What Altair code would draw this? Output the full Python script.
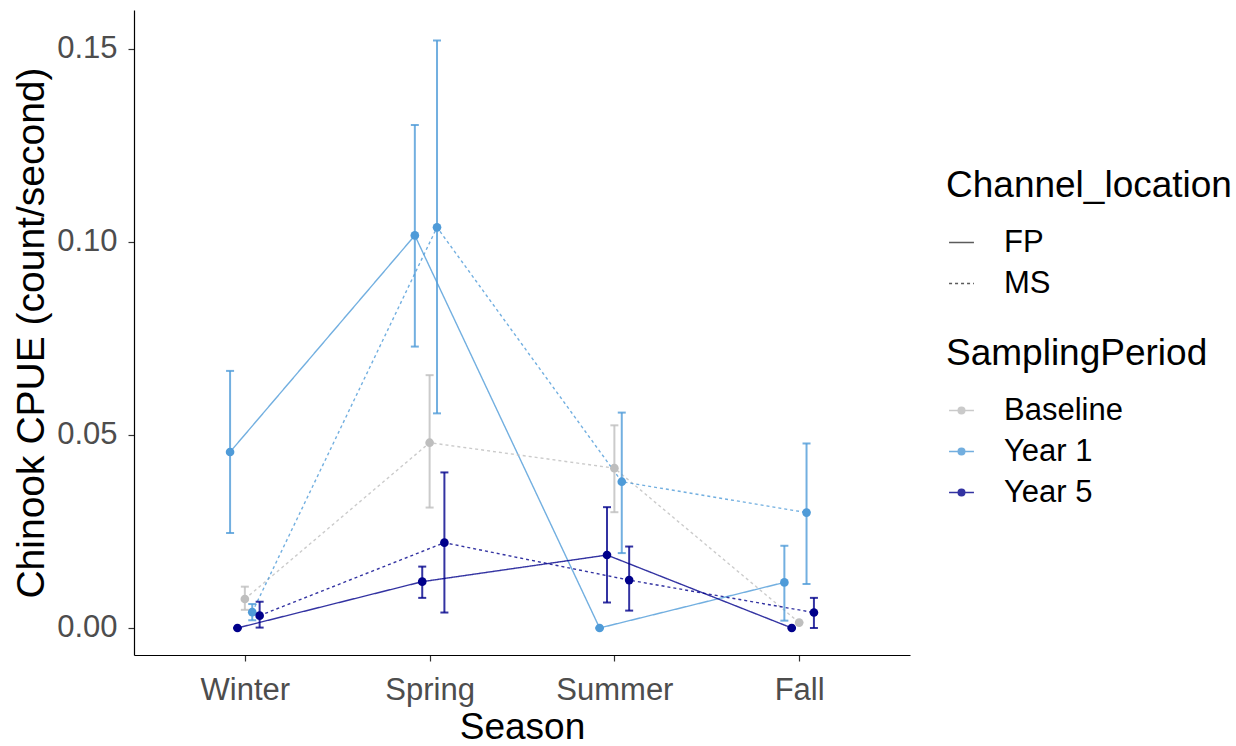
import altair as alt
import pandas as pd

# Seasons on the x axis, in plotting order
seasons = ["Winter", "Spring", "Summer", "Fall"]

# Mean CPUE and error-bar limits for each Channel_location / SamplingPeriod group
fp_y1_mean = [0.0456, 0.1017, 0.0000, 0.0118]
fp_y1_lo = [0.0246, 0.0729, 0.0000, 0.0019]
fp_y1_hi = [0.0666, 0.1303, 0.0000, 0.0213]

fp_y5_mean = [0.0000, 0.0120, 0.0189, 0.0000]
fp_y5_lo = [0.0000, 0.0078, 0.0066, 0.0000]
fp_y5_hi = [0.0000, 0.0159, 0.0313, 0.0000]

ms_base_mean = [0.0075, 0.0480, 0.0414, 0.0014]
ms_base_lo = [0.0047, 0.0312, 0.0300, 0.0014]
ms_base_hi = [0.0107, 0.0655, 0.0525, 0.0014]

ms_y1_mean = [0.0041, 0.1038, 0.0379, 0.0299]
ms_y1_lo = [0.0020, 0.0556, 0.0194, 0.0114]
ms_y1_hi = [0.0062, 0.1522, 0.0558, 0.0478]

ms_y5_mean = [0.0032, 0.0221, 0.0124, 0.0040]
ms_y5_lo = [0.0001, 0.0040, 0.0045, 0.0000]
ms_y5_hi = [0.0068, 0.0403, 0.0211, 0.0078]

periods = ["Baseline", "Year 1", "Year 5"]
period_colors = ["#BEBEBE", "#4F9BD8", "#00008B"]

groups = [
    ("FP", "Year 1", fp_y1_mean, fp_y1_lo, fp_y1_hi),
    ("FP", "Year 5", fp_y5_mean, fp_y5_lo, fp_y5_hi),
    ("MS", "Baseline", ms_base_mean, ms_base_lo, ms_base_hi),
    ("MS", "Year 1", ms_y1_mean, ms_y1_lo, ms_y1_hi),
    ("MS", "Year 5", ms_y5_mean, ms_y5_lo, ms_y5_hi),
]

rows = []
for loc, period, mean, lo, hi in groups:
    for s, m, l, h in zip(seasons, mean, lo, hi):
        rows.append({"Season": s, "Channel_location": loc, "SamplingPeriod": period,
                     "cpue": m, "lo": l, "hi": h})
df = pd.DataFrame(rows)

group_keys = [f"{g[0]}|{g[1]}" for g in groups]
season_list = "[" + ",".join(f"'{s}'" for s in seasons) + "]"
key_list = "[" + ",".join(f"'{k}'" for k in group_keys) + "]"

font = "Liberation Sans"

base = alt.Chart(df).transform_calculate(
    # dodge the five groups around each season
    xpos=f"indexof({season_list}, datum.Season) + 1 + "
         f"(indexof({key_list}, datum.Channel_location + '|' + datum.SamplingPeriod) - 2) * 0.04"
)

x_enc = alt.X(
    "xpos:Q",
    scale=alt.Scale(domain=[0.4, 4.6], nice=False, zero=False),
    axis=alt.Axis(
        values=[1, 2, 3, 4],
        labelExpr=f"{season_list}[datum.value - 1]",
        title="Season",
    ),
)
y_scale = alt.Scale(domain=[-0.007, 0.1601], nice=False, zero=False)
y_enc = alt.Y(
    "cpue:Q",
    scale=y_scale,
    axis=alt.Axis(values=[0, 0.05, 0.10, 0.15], format=".2f",
                  title="Chinook CPUE (count/second)"),
)

color_scale = alt.Scale(domain=periods, range=period_colors)

# legend glyph: short line with a dot in the middle
line_dot = ("M-1,0L1,0"
            "M-0.26,0A0.26,0.26 0 1,0 0.26,0A0.26,0.26 0 1,0 -0.26,0"
            "M-0.12,0A0.12,0.12 0 1,0 0.12,0A0.12,0.12 0 1,0 -0.12,0")

legend_common = dict(
    orient="none", legendX=812, symbolSize=620, rowPadding=9, labelOffset=27,
    titleLimit=400, labelLimit=300,
)

lines = base.mark_line(strokeWidth=1.4, opacity=0.8).encode(
    x=x_enc,
    y=y_enc,
    color=alt.Color(
        "SamplingPeriod:N",
        scale=color_scale,
        legend=alt.Legend(
            title="SamplingPeriod", legendY=326,
            symbolType=line_dot, symbolStrokeWidth=1.6, **legend_common,
        ),
    ),
    strokeDash=alt.StrokeDash(
        "Channel_location:N",
        scale=alt.Scale(domain=["FP", "MS"], range=[[1, 0], [3, 3]]),
        legend=alt.Legend(
            title="Channel_location", legendY=158,
            symbolType="stroke", symbolStrokeColor="#333333",
            symbolStrokeWidth=1.4, **legend_common,
        ),
    ),
)

bars = base.mark_rule(strokeWidth=2, opacity=0.8).encode(
    x="xpos:Q",
    y=alt.Y("lo:Q", scale=y_scale),
    y2="hi:Q",
    color=alt.Color("SamplingPeriod:N", scale=color_scale, legend=None),
)

caps_lo = base.mark_tick(orient="horizontal", size=8, thickness=2, opacity=0.8).encode(
    x="xpos:Q",
    y=alt.Y("lo:Q", scale=y_scale),
    color=alt.Color("SamplingPeriod:N", scale=color_scale, legend=None),
)
caps_hi = base.mark_tick(orient="horizontal", size=8, thickness=2, opacity=0.8).encode(
    x="xpos:Q",
    y=alt.Y("hi:Q", scale=y_scale),
    color=alt.Color("SamplingPeriod:N", scale=color_scale, legend=None),
)

points = base.mark_circle(size=75, opacity=1).encode(
    x="xpos:Q",
    y=alt.Y("cpue:Q", scale=y_scale),
    color=alt.Color("SamplingPeriod:N", scale=color_scale, legend=None),
)

chart = alt.layer(lines, bars, caps_lo, caps_hi, points).properties(
    width=776,
    height=645,
    autosize=alt.AutoSizeParams(type="none"),
    padding={"left": 134, "top": 10, "right": 326, "bottom": 91},
).configure_view(stroke=None).configure_axis(
    grid=False,
    domainColor="#000000",
    domainWidth=1.2,
    tickColor="#333333",
    tickSize=6,
    tickWidth=1.2,
    labelFont=font,
    labelFontSize=31,
    labelColor="#4D4D4D",
    titleFont=font,
    titleFontSize=37,
    titleFontWeight="normal",
    titleColor="#000000",
).configure_axisX(
    labelPadding=14, titlePadding=4,
).configure_axisY(
    labelPadding=11, titlePadding=5, titleFontSize=39,
).configure_legend(
    titleFont=font, titleFontSize=37, titleFontWeight="normal", titleColor="#000000",
    labelFont=font, labelFontSize=31, labelColor="#000000", titlePadding=22,
)

chart.save("out.html", embed_options={"renderer": "svg", "actions": False})
